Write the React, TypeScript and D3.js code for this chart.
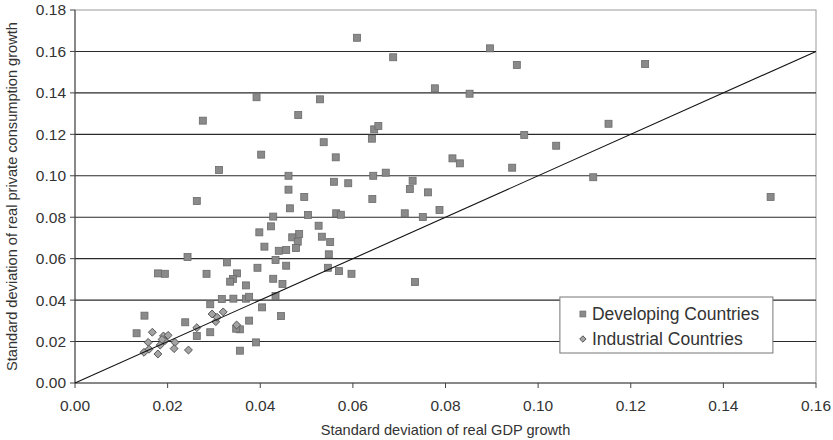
import * as d3 from 'd3';

const WIDTH = 833;
const HEIGHT = 440;
const MARGIN = { top: 10, right: 17, bottom: 57, left: 75 };

// x = std dev of real GDP growth, y = std dev of real private consumption growth
const developingX = [
  0.0609, 0.0896, 0.0687, 0.0954, 0.1231, 0.0777, 0.0852, 0.0392, 0.0276, 0.0529,
  0.0482, 0.0646, 0.0655, 0.0641, 0.0970, 0.1039, 0.1152, 0.1119, 0.1502, 0.0537,
  0.0563, 0.0815, 0.0831, 0.0944, 0.0402, 0.0311, 0.0263, 0.0461, 0.0559, 0.0590,
  0.0644, 0.0671, 0.0729, 0.0723, 0.0762, 0.0461, 0.0495, 0.0642, 0.0464, 0.0428,
  0.0503, 0.0564, 0.0574, 0.0712, 0.0751, 0.0787, 0.0423, 0.0526, 0.0398, 0.0484,
  0.0469, 0.0533, 0.0481, 0.0477, 0.0551, 0.0409, 0.0440, 0.0456, 0.0548, 0.0243,
  0.0328, 0.0433, 0.0456, 0.0394, 0.0546, 0.0570, 0.0597, 0.0734, 0.0179, 0.0194,
  0.0284, 0.0350, 0.0341, 0.0335, 0.0369, 0.0428, 0.0448, 0.0317, 0.0342, 0.0369,
  0.0376, 0.0292, 0.0433, 0.0404, 0.0445, 0.0376, 0.0238, 0.0150, 0.0133, 0.0292,
  0.0356, 0.0348, 0.0391, 0.0356, 0.0263,
];
const developingY = [
  0.1666, 0.1615, 0.1572, 0.1535, 0.1539, 0.1422, 0.1396, 0.1379, 0.1266, 0.1369,
  0.1293, 0.1224, 0.1240, 0.1179, 0.1197, 0.1145, 0.1251, 0.0993, 0.0898, 0.1162,
  0.1089, 0.1084, 0.1060, 0.1039, 0.1102, 0.1028, 0.0878, 0.1000, 0.0971, 0.0964,
  0.1000, 0.1015, 0.0976, 0.0936, 0.0920, 0.0933, 0.0898, 0.0888, 0.0843, 0.0803,
  0.0811, 0.0819, 0.0812, 0.0819, 0.0801, 0.0835, 0.0756, 0.0759, 0.0727, 0.0719,
  0.0703, 0.0706, 0.0682, 0.0651, 0.0680, 0.0658, 0.0638, 0.0642, 0.0621, 0.0608,
  0.0582, 0.0594, 0.0566, 0.0556, 0.0556, 0.0540, 0.0527, 0.0487, 0.0529, 0.0527,
  0.0527, 0.0529, 0.0502, 0.0489, 0.0471, 0.0503, 0.0478, 0.0405, 0.0407, 0.0407,
  0.0416, 0.0380, 0.0420, 0.0365, 0.0323, 0.0301, 0.0293, 0.0325, 0.0240, 0.0245,
  0.0259, 0.0262, 0.0196, 0.0156, 0.0227,
];

const industrialX = [
  0.0167, 0.0158, 0.0149, 0.0160, 0.0179, 0.0184, 0.0191, 0.0201, 0.0194, 0.0216,
  0.0214, 0.0245, 0.0263, 0.0296, 0.0320, 0.0304, 0.0307, 0.0349, 0.0188,
];
const industrialY = [
  0.0245, 0.0196, 0.0148, 0.0163, 0.0140, 0.0183, 0.0227, 0.0230, 0.0204, 0.0196,
  0.0166, 0.0159, 0.0267, 0.0333, 0.0343, 0.0296, 0.0317, 0.0280, 0.0210,
];

const xTicks = [0, 0.02, 0.04, 0.06, 0.08, 0.1, 0.12, 0.14, 0.16];
const yTicks = [0, 0.02, 0.04, 0.06, 0.08, 0.1, 0.12, 0.14, 0.16, 0.18];
const legendLabels = ['Developing Countries', 'Industrial Countries'];

const FONT = 'Arial, "Liberation Sans", sans-serif';
const TEXT = '#333';

const App = () => {
  const boundsWidth = WIDTH - MARGIN.left - MARGIN.right;
  const boundsHeight = HEIGHT - MARGIN.top - MARGIN.bottom;

  const xScale = d3.scaleLinear().domain([0, 0.16]).range([0, boundsWidth]);
  const yScale = d3.scaleLinear().domain([0, 0.18]).range([boundsHeight, 0]);

  const diamond = d3.symbol().type(d3.symbolDiamond2).size(40)();
  const fmt = d3.format('.2f');

  const diag = d3.line()([
    [xScale(0), yScale(0)],
    [xScale(0.16), yScale(0.16)],
  ]);

  return (
    <svg
      width={WIDTH}
      height={HEIGHT}
      style={{ position: 'absolute', left: 0, top: 0, background: '#fff' }}
      fontFamily={FONT}
    >
      <g transform={`translate(${MARGIN.left},${MARGIN.top})`}>
        {/* plot frame */}
        <rect x={0} y={0} width={boundsWidth} height={boundsHeight} fill="none" stroke="#9a9a9a" />

        {/* horizontal gridlines */}
        {yTicks.slice(1, -1).map((t) => (
          <line key={t} x1={0} x2={boundsWidth} y1={yScale(t)} y2={yScale(t)} stroke="#2a2a2a" strokeWidth={1.1} />
        ))}

        {/* axes */}
        <line x1={0} x2={0} y1={0} y2={boundsHeight} stroke="#444" />
        <line x1={0} x2={boundsWidth} y1={boundsHeight} y2={boundsHeight} stroke="#444" />

        {yTicks.map((t) => (
          <g key={t} transform={`translate(0,${yScale(t)})`}>
            <line x1={-5} x2={0} stroke="#444" />
            <text x={-9} dy="0.35em" textAnchor="end" fontSize={15.5} fill={TEXT}>
              {fmt(t)}
            </text>
          </g>
        ))}
        {xTicks.map((t) => (
          <g key={t} transform={`translate(${xScale(t)},${boundsHeight})`}>
            <line y1={0} y2={5} stroke="#444" />
            <text y={23} dy="0.35em" textAnchor="middle" fontSize={15.5} fill={TEXT}>
              {fmt(t)}
            </text>
          </g>
        ))}

        {/* points */}
        {developingX.map((x, i) => (
          <rect
            key={'d' + i}
            x={xScale(x) - 3.5}
            y={yScale(developingY[i]) - 3.5}
            width={7}
            height={7}
            fill="#8a8a8a"
            stroke="#6a6a6a"
            strokeWidth={0.8}
          />
        ))}
        {industrialX.map((x, i) => (
          <path
            key={'i' + i}
            d={diamond}
            transform={`translate(${xScale(x)},${yScale(industrialY[i])})`}
            fill="#a3a3a3"
            stroke="#555"
            strokeWidth={1}
          />
        ))}

        {/* 45 degree line */}
        <path d={diag} stroke="#111" strokeWidth={1.1} fill="none" />

        {/* legend */}
        <g transform={`translate(${xScale(0.1047)},${yScale(0.0415)})`}>
          <rect x={0} y={0} width={213} height={56} fill="#fff" stroke="#777" />
          {legendLabels.map((label, i) => (
            <g key={label} transform={`translate(0,${17 + i * 25})`}>
              {i === 0 ? (
                <rect x={20} y={-3} width={6} height={6} fill="#8a8a8a" stroke="#6a6a6a" strokeWidth={0.6} />
              ) : (
                <path d={d3.symbol().type(d3.symbolDiamond2).size(26)()} transform="translate(23,0)" fill="#a3a3a3" stroke="#555" />
              )}
              <text x={32} dy="0.36em" fontSize={17.5} fill={TEXT}>
                {label}
              </text>
            </g>
          ))}
        </g>

        {/* axis titles */}
        <text x={boundsWidth / 2} y={boundsHeight + 47} dy="0.35em" textAnchor="middle" fontSize={14.6} fill={TEXT}>
          Standard deviation of real GDP growth
        </text>
        <text
          transform={`translate(${-63},${boundsHeight / 2}) rotate(-90)`}
          dy="0.35em"
          textAnchor="middle"
          fontSize={14.6}
          fill={TEXT}
        >
          Standard deviation of real private consumption growth
        </text>
      </g>
    </svg>
  );
};

export default App;
